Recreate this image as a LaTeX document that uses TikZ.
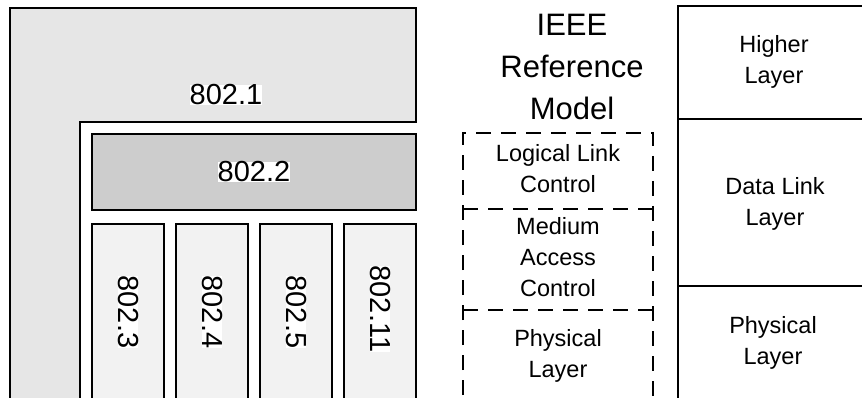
\documentclass[tikz,border=0pt]{standalone}
\usepackage{fontspec}
\setmainfont{Liberation Sans}
\definecolor{stdgray}{HTML}{E6E6E6}
\definecolor{llcgray}{HTML}{CDCDCD}
\definecolor{macgray}{HTML}{F2F2F2}

\begin{document}
\begin{tikzpicture}[x=1pt,y=-1pt,
  frame/.style={draw=black, line width=2pt},
  boxnode/.style={frame, anchor=north west, inner sep=0pt, outer sep=0pt},
  area/.style={anchor=north west, inner sep=0pt, outer sep=0pt, minimum width=190pt},
  num/.style={fill=white, inner sep=0pt, font=\fontsize{29}{34}\selectfont},
  vnum/.style={num, rotate=-90},
  title/.style={align=center, inner sep=0pt, font=\fontsize{31}{42}\selectfont},
  lbl/.style={align=center, inner sep=0pt, font=\fontsize{23.5}{31}\selectfont},
  dashline/.style={draw=black, line width=2pt, dash pattern=on 15pt off 10pt}]

\useasboundingbox (0,0) rectangle (862,398);
\clip (0,0) rectangle (862,398);

% 802.1 wraps around the MAC standards as an L-shaped block
\draw[frame, fill=stdgray] (10,8) -- (416,8) -- (416,122) -- (80,122)
  -- (80,420) -- (10,420) -- cycle;
\node[num] (t1) at (226,95) {802.1};

% 802.2 (LLC)
\node[boxnode, fill=llcgray, minimum width=324pt, minimum height=76pt] (s2) at (92,134) {};
\node[num] (t2) at (s2.center) {802.2};

% MAC / PHY standards, one column each
\node[boxnode, fill=macgray, minimum width=72pt, minimum height=196pt] (s3) at (92,224) {};
\node[boxnode, fill=macgray, minimum width=72pt, minimum height=196pt] (s4) at (176,224) {};
\node[boxnode, fill=macgray, minimum width=72pt, minimum height=196pt] (s5) at (260,224) {};
\node[boxnode, fill=macgray, minimum width=72pt, minimum height=196pt] (s11) at (344,224) {};
\node[vnum] (t3) at (128,312) {802.3};
\node[vnum] (t4) at (212,312) {802.4};
\node[vnum] (t5) at (296,312) {802.5};
\node[vnum] (t11) at (380,309) {802.11};

% IEEE reference model
\node[title] (ieee) at (572,67) {IEEE\\Reference\\Model};
\node[area, minimum height=76pt] (llc) at (463,133) {};
\node[area, minimum height=101pt] (mac) at (463,209) {};
\node[area, minimum height=110pt] (phy) at (463,310) {};
\draw[dashline] (phy.south west) -- (llc.north west) -- (llc.north east) -- (phy.south east);
\draw[dashline] (mac.north west) -- (mac.north east);
\draw[dashline] (phy.north west) -- (phy.north east);
\node[lbl] (llct) at (558,168.5) {Logical Link\\Control};
\node[lbl] (mact) at (558,257.5) {Medium\\Access\\Control};
\node[lbl] (phyt) at (558,356) {Physical\\Layer};

% OSI layers
\node[boxnode, minimum width=200pt, minimum height=113pt] (hl) at (678,6) {};
\node[boxnode, minimum width=200pt, minimum height=167pt] (dl) at (678,119) {};
\node[boxnode, minimum width=200pt, minimum height=134pt] (pl) at (678,286) {};
\node[lbl] (hlt) at (774,62) {Higher\\Layer};
\node[lbl] (dlt) at (775,204) {Data Link\\Layer};
\node[lbl] (plt) at (773,343) {Physical\\Layer};
\end{tikzpicture}
\end{document}
